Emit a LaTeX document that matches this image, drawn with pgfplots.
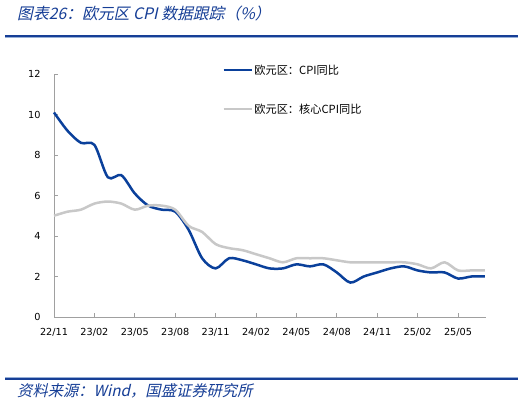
\documentclass[border=0pt]{standalone}
\usepackage{pgfplots}
\pgfplotsset{compat=1.18}
\usepackage{fontspec}
\setmainfont{DejaVu Sans}
\newfontfamily\dejavu{DejaVu Sans}
\newfontfamily\cjk{Noto Sans CJK SC}
\newfontfamily\cjkit[FakeSlant=0.22]{Noto Sans CJK SC}
\definecolor{hdblue}{RGB}{22,62,150}
\definecolor{cpiblue}{RGB}{10,64,155}
\definecolor{coregray}{RGB}{200,200,200}
\definecolor{axgray}{RGB}{160,160,160}
\definecolor{lightrule}{RGB}{150,175,215}
\begin{document}
\begin{tikzpicture}[x=1pt,y=1pt]
\path[fill=white] (0,0) rectangle (525,403);
% header
\node[anchor=west, inner sep=0pt, text=hdblue, font=\cjkit\fontsize{15.8}{18}\selectfont] at (17,389) {图表26：欧元区 CPI 数据跟踪（\%）};
\draw[hdblue, line width=2pt] (5,367) -- (518,367);
\draw[lightrule, line width=0.8pt] (5,365.3) -- (518,365.3);
% footer
\draw[lightrule, line width=0.8pt] (5,25.7) -- (518,25.7);
\draw[hdblue, line width=2pt] (5,24) -- (518,24);
\node[anchor=west, inner sep=0pt, text=hdblue, font=\cjkit\fontsize{15.3}{17}\selectfont] at (17,12) {资料来源：Wind，国盛证券研究所};
\begin{axis}[
  at={(54pt,86pt)}, anchor=south west,
  scale only axis, width=432.3pt, height=243pt,
  xmin=0, xmax=32.1, ymin=0, ymax=12,
  axis x line=bottom, axis y line=left,
  axis line style={draw=axgray, line width=0.8pt, -},
  tick style={draw=axgray, line width=0.8pt},
  tick align=inside, major tick length=4pt,
  xtick={0,3,...,30},
  xticklabels={22/11,23/02,23/05,23/08,23/11,24/02,24/05,24/08,24/11,25/02,25/05},
  ytick={0,2,...,12},
  /pgf/number format/assume math mode=true,
  ticklabel style={font=\dejavu\fontsize{9.7}{11}\selectfont, text=black},
  xticklabel style={yshift=-8pt},
  yticklabel style={xshift=-10pt},
  clip=false,
  legend cell align=left,
  legend style={draw=none, fill=none, at={(rel axis cs:0.389,1.045)}, anchor=north west,
    inner sep=0pt, row sep=25pt, font=\cjk\fontsize{11.2}{13}\selectfont,
    nodes={inner sep=1.5pt}},
  legend image code/.code={\draw[#1] (0pt,0pt) -- (28pt,0pt);},
]
\addplot[cpiblue, line width=2.5pt, smooth, tension=0.5] coordinates {
(0,10.1)(1,9.2)(2,8.6)(3,8.5)(4,6.9)(5,7.0)(6,6.1)(7,5.5)(8,5.3)(9,5.2)
(10,4.3)(11,2.9)(12,2.4)(13,2.9)(14,2.8)(15,2.6)(16,2.4)(17,2.4)(18,2.6)(19,2.5)
(20,2.6)(21,2.2)(22,1.7)(23,2.0)(24,2.2)(25,2.4)(26,2.5)(27,2.3)(28,2.2)(29,2.2)
(30,1.9)(31,2.0)(32,2.0)};
\addlegendentry{欧元区：CPI同比}
\addplot[coregray, line width=2.5pt, smooth, tension=0.5] coordinates {
(0,5.0)(1,5.2)(2,5.3)(3,5.6)(4,5.7)(5,5.6)(6,5.3)(7,5.5)(8,5.5)(9,5.3)
(10,4.5)(11,4.2)(12,3.6)(13,3.4)(14,3.3)(15,3.1)(16,2.9)(17,2.7)(18,2.9)(19,2.9)
(20,2.9)(21,2.8)(22,2.7)(23,2.7)(24,2.7)(25,2.7)(26,2.7)(27,2.6)(28,2.4)(29,2.7)
(30,2.3)(31,2.3)(32,2.3)};
\addlegendentry{欧元区：核心CPI同比}
\end{axis}
\end{tikzpicture}
\end{document}
